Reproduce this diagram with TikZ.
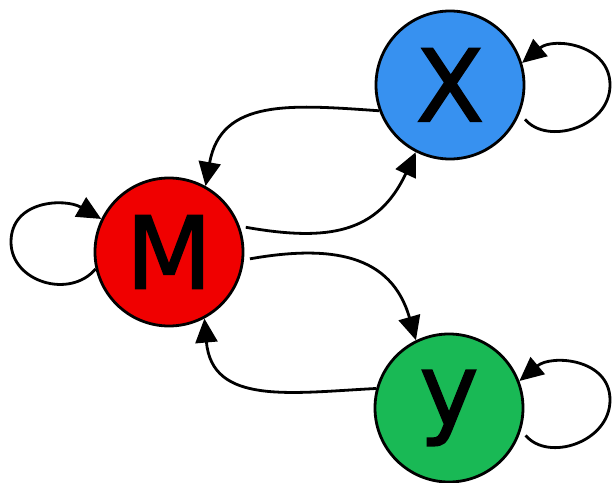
\documentclass[tikz,border=0pt]{standalone}
\usepackage{fontspec}
\setmainfont{DejaVu Sans}
\newfontfamily\letterfont[FakeBold=1.6]{DejaVu Sans}
\usetikzlibrary{arrows.meta}
\definecolor{Mred}{RGB}{240,0,0}
\definecolor{Xblue}{RGB}{55,145,240}
\definecolor{Ygreen}{RGB}{25,185,85}
\begin{document}
\begin{tikzpicture}[x=1pt,y=1pt,
  state/.style={circle,draw=black,line width=2.8pt,minimum size=148pt,inner sep=0pt,
    font=\letterfont\fontsize{100}{100}\selectfont},
  conn/.style={line width=2.8pt,-{Triangle[length=24pt,width=22pt]}},
  looseness=1.2]
\useasboundingbox (0,0) rectangle (613,482);
\node[state,fill=Mred]   (M) at (169,230) {M};
\node[state,fill=Xblue]  (X) at (450,397) {X};
\node[state,fill=Ygreen] (Y) at (449,74)  {y};
\coordinate (mloop) at (11,240);
\coordinate (xloop) at (610,397);
\coordinate (yloop) at (610,82);
% between nodes
\draw[conn] (X.200) to[out=176,in=80] (M.61);
\draw[conn,shorten <=6pt] (M.20) to[out=-10,in=245] (X.243);
\draw[conn,shorten <=6pt] (M.-6) to[out=10,in=106] (Y.116);
\draw[conn] (Y.165) to[out=183,in=-85] (M.298);
% self loops
\draw[conn,looseness=1.15] (M.193.5) to[out=230,in=-90] (mloop) to[out=90,in=150] (M.154);
\draw[conn,looseness=1.15,shorten <=8pt] (X.-22) to[out=-50,in=-90] (xloop) to[out=90,in=40] (X.17);
\draw[conn,looseness=1.15,shorten <=7pt] (Y.-17) to[out=-50,in=-90] (yloop) to[out=90,in=40] (Y.21);
\end{tikzpicture}
\end{document}
